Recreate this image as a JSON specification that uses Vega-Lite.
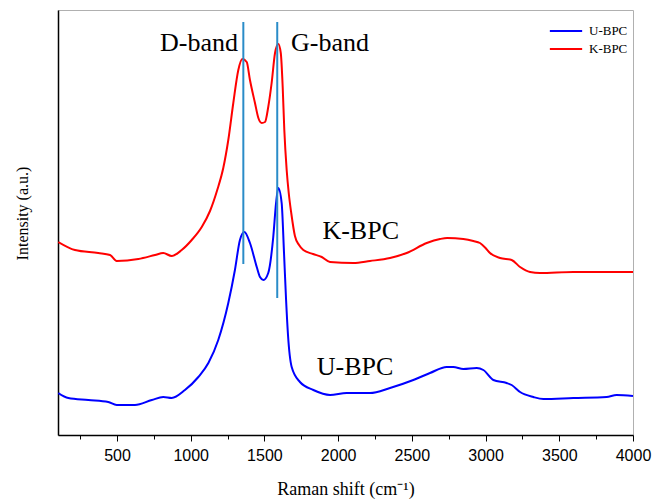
{
  "$schema": "https://vega.github.io/schema/vega-lite/v6.json",
  "width": 575,
  "height": 425,
  "autosize": {"type": "none"},
  "padding": {"left": 58, "top": 10, "right": 22, "bottom": 66},
  "background": "white",
  "config": {
    "view": {"stroke": "#b0b0b0", "strokeWidth": 1},
    "axis": {"grid": false}
  },
  "resolve": {"axis": {"x": "independent"}},
  "datasets": {
    "spectra": [
      {"shift": 102, "intensity": 193, "sample": "K-BPC"},
      {"shift": 215, "intensity": 185, "sample": "K-BPC"},
      {"shift": 373, "intensity": 182, "sample": "K-BPC"},
      {"shift": 453, "intensity": 180, "sample": "K-BPC"},
      {"shift": 498, "intensity": 174, "sample": "K-BPC"},
      {"shift": 645, "intensity": 176, "sample": "K-BPC"},
      {"shift": 758, "intensity": 180, "sample": "K-BPC"},
      {"shift": 814, "intensity": 182, "sample": "K-BPC"},
      {"shift": 871, "intensity": 179, "sample": "K-BPC"},
      {"shift": 939, "intensity": 185, "sample": "K-BPC"},
      {"shift": 1007, "intensity": 195, "sample": "K-BPC"},
      {"shift": 1075, "intensity": 208, "sample": "K-BPC"},
      {"shift": 1131, "intensity": 224, "sample": "K-BPC"},
      {"shift": 1180, "intensity": 245, "sample": "K-BPC"},
      {"shift": 1221, "intensity": 267, "sample": "K-BPC"},
      {"shift": 1255, "intensity": 295, "sample": "K-BPC"},
      {"shift": 1289, "intensity": 332, "sample": "K-BPC"},
      {"shift": 1323, "intensity": 365, "sample": "K-BPC"},
      {"shift": 1350, "intensity": 376, "sample": "K-BPC"},
      {"shift": 1380, "intensity": 373, "sample": "K-BPC"},
      {"shift": 1402, "intensity": 355, "sample": "K-BPC"},
      {"shift": 1436, "intensity": 332, "sample": "K-BPC"},
      {"shift": 1459, "intensity": 317, "sample": "K-BPC"},
      {"shift": 1482, "intensity": 312, "sample": "K-BPC"},
      {"shift": 1504, "intensity": 313, "sample": "K-BPC"},
      {"shift": 1526, "intensity": 328, "sample": "K-BPC"},
      {"shift": 1549, "intensity": 352, "sample": "K-BPC"},
      {"shift": 1572, "intensity": 382, "sample": "K-BPC"},
      {"shift": 1594, "intensity": 391, "sample": "K-BPC"},
      {"shift": 1611, "intensity": 382, "sample": "K-BPC"},
      {"shift": 1624, "intensity": 348, "sample": "K-BPC"},
      {"shift": 1635, "intensity": 305, "sample": "K-BPC"},
      {"shift": 1651, "intensity": 265, "sample": "K-BPC"},
      {"shift": 1665, "intensity": 242, "sample": "K-BPC"},
      {"shift": 1682, "intensity": 222, "sample": "K-BPC"},
      {"shift": 1707, "intensity": 199, "sample": "K-BPC"},
      {"shift": 1735, "intensity": 190, "sample": "K-BPC"},
      {"shift": 1764, "intensity": 185, "sample": "K-BPC"},
      {"shift": 1830, "intensity": 181, "sample": "K-BPC"},
      {"shift": 1889, "intensity": 178, "sample": "K-BPC"},
      {"shift": 1945, "intensity": 173, "sample": "K-BPC"},
      {"shift": 2103, "intensity": 172, "sample": "K-BPC"},
      {"shift": 2216, "intensity": 174, "sample": "K-BPC"},
      {"shift": 2352, "intensity": 177, "sample": "K-BPC"},
      {"shift": 2465, "intensity": 182, "sample": "K-BPC"},
      {"shift": 2601, "intensity": 192, "sample": "K-BPC"},
      {"shift": 2691, "intensity": 196, "sample": "K-BPC"},
      {"shift": 2740, "intensity": 197, "sample": "K-BPC"},
      {"shift": 2849, "intensity": 196, "sample": "K-BPC"},
      {"shift": 2917, "intensity": 194, "sample": "K-BPC"},
      {"shift": 2962, "intensity": 192, "sample": "K-BPC"},
      {"shift": 3000, "intensity": 187, "sample": "K-BPC"},
      {"shift": 3030, "intensity": 182, "sample": "K-BPC"},
      {"shift": 3098, "intensity": 177, "sample": "K-BPC"},
      {"shift": 3177, "intensity": 175, "sample": "K-BPC"},
      {"shift": 3234, "intensity": 168, "sample": "K-BPC"},
      {"shift": 3302, "intensity": 163, "sample": "K-BPC"},
      {"shift": 3369, "intensity": 162, "sample": "K-BPC"},
      {"shift": 3595, "intensity": 163, "sample": "K-BPC"},
      {"shift": 3821, "intensity": 163, "sample": "K-BPC"},
      {"shift": 4000, "intensity": 163, "sample": "K-BPC"},
      {"shift": 102, "intensity": 42, "sample": "U-BPC"},
      {"shift": 170, "intensity": 37, "sample": "U-BPC"},
      {"shift": 306, "intensity": 35, "sample": "U-BPC"},
      {"shift": 441, "intensity": 33, "sample": "U-BPC"},
      {"shift": 498, "intensity": 30, "sample": "U-BPC"},
      {"shift": 622, "intensity": 30, "sample": "U-BPC"},
      {"shift": 736, "intensity": 35, "sample": "U-BPC"},
      {"shift": 814, "intensity": 38, "sample": "U-BPC"},
      {"shift": 871, "intensity": 37, "sample": "U-BPC"},
      {"shift": 961, "intensity": 45, "sample": "U-BPC"},
      {"shift": 1052, "intensity": 58, "sample": "U-BPC"},
      {"shift": 1120, "intensity": 72, "sample": "U-BPC"},
      {"shift": 1187, "intensity": 95, "sample": "U-BPC"},
      {"shift": 1255, "intensity": 132, "sample": "U-BPC"},
      {"shift": 1300, "intensity": 165, "sample": "U-BPC"},
      {"shift": 1334, "intensity": 195, "sample": "U-BPC"},
      {"shift": 1364, "intensity": 203, "sample": "U-BPC"},
      {"shift": 1402, "intensity": 192, "sample": "U-BPC"},
      {"shift": 1448, "intensity": 168, "sample": "U-BPC"},
      {"shift": 1470, "intensity": 158, "sample": "U-BPC"},
      {"shift": 1493, "intensity": 155, "sample": "U-BPC"},
      {"shift": 1526, "intensity": 162, "sample": "U-BPC"},
      {"shift": 1560, "intensity": 198, "sample": "U-BPC"},
      {"shift": 1579, "intensity": 232, "sample": "U-BPC"},
      {"shift": 1594, "intensity": 247, "sample": "U-BPC"},
      {"shift": 1617, "intensity": 232, "sample": "U-BPC"},
      {"shift": 1633, "intensity": 182, "sample": "U-BPC"},
      {"shift": 1647, "intensity": 135, "sample": "U-BPC"},
      {"shift": 1660, "intensity": 100, "sample": "U-BPC"},
      {"shift": 1685, "intensity": 68, "sample": "U-BPC"},
      {"shift": 1741, "intensity": 53, "sample": "U-BPC"},
      {"shift": 1832, "intensity": 45, "sample": "U-BPC"},
      {"shift": 1945, "intensity": 40, "sample": "U-BPC"},
      {"shift": 2058, "intensity": 42, "sample": "U-BPC"},
      {"shift": 2216, "intensity": 42, "sample": "U-BPC"},
      {"shift": 2352, "intensity": 47, "sample": "U-BPC"},
      {"shift": 2510, "intensity": 55, "sample": "U-BPC"},
      {"shift": 2623, "intensity": 62, "sample": "U-BPC"},
      {"shift": 2737, "intensity": 68, "sample": "U-BPC"},
      {"shift": 2781, "intensity": 68, "sample": "U-BPC"},
      {"shift": 2849, "intensity": 66, "sample": "U-BPC"},
      {"shift": 2940, "intensity": 67, "sample": "U-BPC"},
      {"shift": 2985, "intensity": 65, "sample": "U-BPC"},
      {"shift": 3053, "intensity": 55, "sample": "U-BPC"},
      {"shift": 3143, "intensity": 52, "sample": "U-BPC"},
      {"shift": 3177, "intensity": 50, "sample": "U-BPC"},
      {"shift": 3234, "intensity": 43, "sample": "U-BPC"},
      {"shift": 3324, "intensity": 38, "sample": "U-BPC"},
      {"shift": 3392, "intensity": 36, "sample": "U-BPC"},
      {"shift": 3595, "intensity": 37, "sample": "U-BPC"},
      {"shift": 3821, "intensity": 38, "sample": "U-BPC"},
      {"shift": 3889, "intensity": 40, "sample": "U-BPC"},
      {"shift": 4000, "intensity": 39, "sample": "U-BPC"}
    ],
    "bands": [
      {"shift": 1357, "top": 413, "bottom": 171},
      {"shift": 1587, "top": 413, "bottom": 137}
    ],
    "labels": [
      {"shift": 1056, "intensity": 392, "text": "D-band"},
      {"shift": 1945, "intensity": 392, "text": "G-band"},
      {"shift": 2153, "intensity": 204, "text": "K-BPC"},
      {"shift": 2115, "intensity": 68, "text": "U-BPC"}
    ]
  },
  "layer": [
    {
      "data": {"name": "spectra"},
      "mark": {"type": "line", "strokeWidth": 2, "clip": true, "interpolate": "monotone"},
      "encoding": {
        "x": {
          "field": "shift", "type": "quantitative",
          "scale": {"domain": [100, 4000], "nice": false, "zero": false},
          "axis": {
            "orient": "bottom",
            "title": null,
            "labels": false,
            "values": [250, 500, 750, 1000, 1250, 1500, 1750, 2000, 2250, 2500, 2750, 3000, 3250, 3500, 3750, 4000],
            "tickSize": {"condition": {"test": "datum.value % 500 === 0", "value": 6}, "value": 4},
            "tickColor": "black", "tickWidth": 1,
            "domainColor": "black", "domainWidth": 1.5
          }
        },
        "y": {
          "field": "intensity", "type": "quantitative",
          "scale": {"domain": [0, 425], "nice": false, "zero": false},
          "axis": {
            "title": "Intensity (a.u.)",
            "titleFont": "Liberation Serif", "titleFontSize": 16, "titleFontWeight": "normal", "titleColor": "black",
            "titlePadding": 28, "titleY": 203,
            "labels": false, "ticks": false,
            "domainColor": "black", "domainWidth": 1.5
          }
        },
        "color": {
          "field": "sample", "type": "nominal",
          "scale": {"domain": ["U-BPC", "K-BPC"], "range": ["#0000FF", "#FF0000"]},
          "legend": {
            "title": null,
            "orient": "none",
            "legendX": 497.5,
            "legendY": 10.5,
            "padding": 0,
            "labelFont": "Liberation Serif", "labelFontSize": 13, "labelColor": "black",
            "symbolType": "M-1.7,0H1.7", "symbolSize": 361, "symbolStrokeWidth": 2,
            "rowPadding": 0, "labelOffset": 12.5
          }
        }
      }
    },
    {
      "data": {"name": "bands"},
      "mark": {"type": "rule", "color": "#2a8cc8", "strokeWidth": 2},
      "encoding": {
        "x": {"field": "shift", "type": "quantitative", "axis": null},
        "y": {"field": "top", "type": "quantitative"},
        "y2": {"field": "bottom"}
      }
    },
    {
      "data": {"name": "labels"},
      "mark": {"type": "text", "font": "Liberation Serif", "fontSize": 26, "color": "black", "align": "center", "baseline": "middle"},
      "encoding": {
        "x": {
          "field": "shift", "type": "quantitative",
          "axis": {
            "orient": "bottom",
            "title": "Raman shift (cm⁻¹)",
            "titleFont": "Liberation Serif", "titleFontSize": 18, "titleFontWeight": "normal", "titleColor": "black",
            "titlePadding": 17,
            "values": [500, 1000, 1500, 2000, 2500, 3000, 3500, 4000],
            "format": "d",
            "labelFont": "Liberation Sans", "labelFontSize": 16, "labelColor": "black",
            "labelPadding": 12, "labelFlush": false,
            "ticks": false, "domain": false
          }
        },
        "y": {"field": "intensity", "type": "quantitative"},
        "text": {"field": "text"}
      }
    }
  ]
}
